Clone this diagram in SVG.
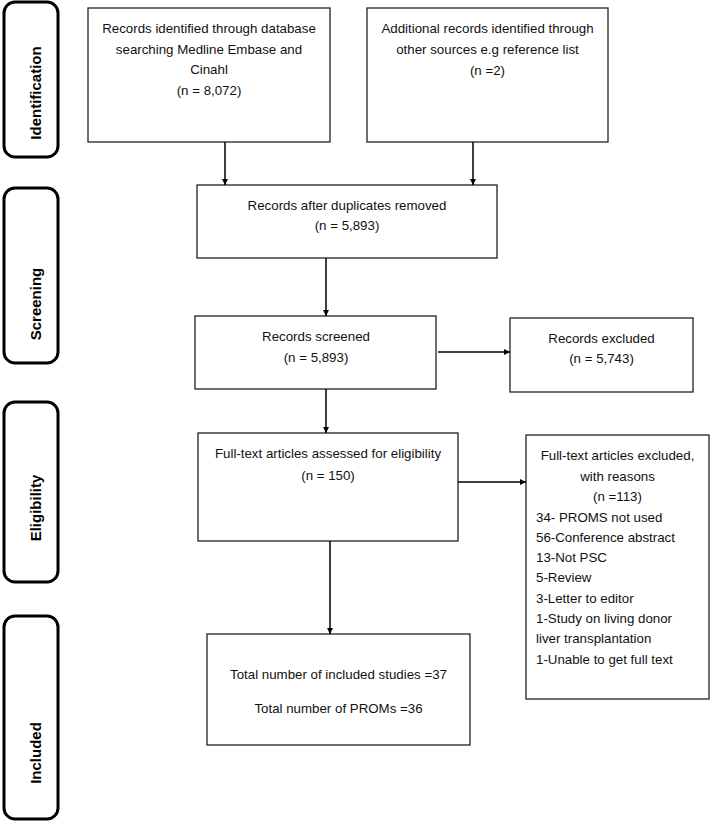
<svg xmlns="http://www.w3.org/2000/svg" width="710" height="821" viewBox="0 0 710 821">
<style>
.box{fill:#fff;stroke:#222;stroke-width:1.3}
.phase{fill:#fff;stroke:#000;stroke-width:3}
.t{font-family:"Liberation Sans",Arial,sans-serif;font-size:13.3px;fill:#111;text-anchor:middle}
.l{text-anchor:start}
.p{font-family:"Liberation Sans",Arial,sans-serif;font-size:15px;font-weight:bold;fill:#000;text-anchor:middle}
.c{stroke:#000;stroke-width:1.5;fill:none}
</style>
<defs>
<marker id="ah" viewBox="0 0 10 10" refX="10" refY="5" markerWidth="6" markerHeight="6" orient="auto" markerUnits="userSpaceOnUse">
<path d="M0,0 L10,5 L0,10 z" fill="#000"/>
</marker>
</defs>
<rect width="710" height="821" fill="#fff"/>
<g id="phase-identification">
<rect class="phase" x="4" y="2" width="54" height="155" rx="11"/>
<text class="p" transform="translate(41,93) rotate(-90)">Identification</text>
</g>
<g id="phase-screening">
<rect class="phase" x="4" y="188" width="54" height="175" rx="11"/>
<text class="p" transform="translate(41,304) rotate(-90)">Screening</text>
</g>
<g id="phase-eligibility">
<rect class="phase" x="4" y="402" width="54" height="180" rx="11"/>
<text class="p" transform="translate(41,508) rotate(-90)">Eligibility</text>
</g>
<g id="phase-included">
<rect class="phase" x="4" y="616" width="54" height="203" rx="11"/>
<text class="p" transform="translate(41,753) rotate(-90)">Included</text>
</g>
<g id="n1">
<rect class="box" x="88" y="8" width="242" height="134"/>
<text class="t" x="209" y="33">Records identified through database</text>
<text class="t" x="209" y="54">searching Medline Embase and</text>
<text class="t" x="209" y="74">Cinahl</text>
<text class="t" x="209" y="95">(n = 8,072)</text>
</g>
<g id="n2">
<rect class="box" x="367" y="8" width="241" height="134"/>
<text class="t" x="487.5" y="33">Additional records identified through</text>
<text class="t" x="487.5" y="54">other sources e.g reference list</text>
<text class="t" x="487.5" y="75">(n =2)</text>
</g>
<g id="n3">
<rect class="box" x="197" y="185" width="300" height="73"/>
<text class="t" x="347" y="210">Records after duplicates removed</text>
<text class="t" x="347" y="230">(n = 5,893)</text>
</g>
<g id="n4">
<rect class="box" x="195" y="316" width="241" height="73"/>
<text class="t" x="316" y="341">Records screened</text>
<text class="t" x="316" y="362">(n = 5,893)</text>
</g>
<g id="n5">
<rect class="box" x="510" y="318" width="183" height="74"/>
<text class="t" x="601.5" y="343">Records excluded</text>
<text class="t" x="601.5" y="363">(n = 5,743)</text>
</g>
<g id="n6">
<rect class="box" x="198" y="433" width="260" height="108"/>
<text class="t" x="328" y="458">Full-text articles assessed for eligibility</text>
<text class="t" x="328" y="480">(n = 150)</text>
</g>
<g id="n7">
<rect class="box" x="526" y="435" width="183" height="264"/>
<text class="t" x="617.5" y="460">Full-text articles excluded,</text>
<text class="t" x="617.5" y="481">with reasons</text>
<text class="t" x="617.5" y="501">(n =113)</text>
<text class="t l" x="536" y="522">34- PROMS not used</text>
<text class="t l" x="536" y="542">56-Conference abstract</text>
<text class="t l" x="536" y="562">13-Not PSC</text>
<text class="t l" x="536" y="582">5-Review</text>
<text class="t l" x="536" y="603">3-Letter to editor</text>
<text class="t l" x="536" y="623">1-Study on living donor</text>
<text class="t l" x="536" y="643">liver transplantation</text>
<text class="t l" x="536" y="664">1-Unable to get full text</text>
</g>
<g id="n8">
<rect class="box" x="207" y="634" width="263" height="111"/>
<text class="t" x="338.5" y="679">Total number of included studies =37</text>
<text class="t" x="338.5" y="713">Total number of PROMs =36</text>
</g>
<g id="connectors">
<line class="c" x1="225" y1="142" x2="225" y2="185" marker-end="url(#ah)"/>
<line class="c" x1="473" y1="142" x2="473" y2="185" marker-end="url(#ah)"/>
<line class="c" x1="326" y1="258" x2="326" y2="316" marker-end="url(#ah)"/>
<line class="c" x1="438" y1="352" x2="510" y2="352" marker-end="url(#ah)"/>
<line class="c" x1="326" y1="389" x2="326" y2="433" marker-end="url(#ah)"/>
<line class="c" x1="458" y1="482" x2="526" y2="482" marker-end="url(#ah)"/>
<line class="c" x1="330" y1="541" x2="330" y2="634" marker-end="url(#ah)"/>
</g>
</svg>
